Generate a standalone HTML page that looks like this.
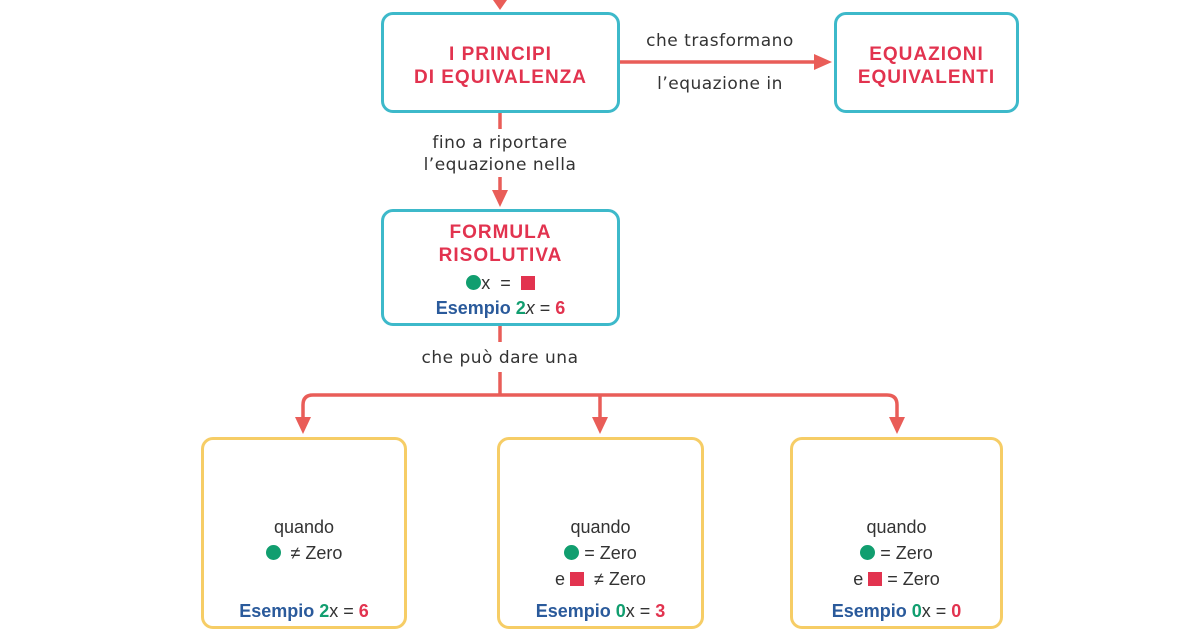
<!DOCTYPE html>
<html><head><meta charset="utf-8"><style>
body{margin:0;width:1200px;height:630px;background:#fff;position:relative;overflow:hidden;font-family:"Liberation Sans","DejaVu Sans",sans-serif}
.b{position:absolute;box-sizing:border-box;border-radius:12px;text-align:center}
.t{border:3.5px solid #3db9ca}
.y{border:3.5px solid #f6cd66}
.h{color:#e2334f;font-weight:bold;font-size:19px;letter-spacing:1px;line-height:23px}
.l{position:absolute;font-size:17px;color:#333;text-align:center;line-height:22px;font-family:"DejaVu Sans",sans-serif;letter-spacing:0.5px}
.ex{color:#2a5a9b;font-weight:bold;font-size:18px}
.g{color:#119e6f;font-weight:bold}.r{color:#e2334f;font-weight:bold}
.dot{display:inline-block;width:15px;height:15px;border-radius:50%;background:#119e6f;vertical-align:-1px}
.sq{display:inline-block;width:14px;height:14px;background:#e2334f;vertical-align:-1px}
.c{font-size:18px;color:#333;line-height:26px}
</style></head><body>
<svg width="1200" height="630" style="position:absolute;left:0;top:0" fill="none" stroke="#e95d58" stroke-width="3.5">
<line x1="500" y1="0" x2="500" y2="4"/><polygon points="493,0 507,0 500,10" fill="#e95d58" stroke="none"/>
<line x1="619" y1="62" x2="815" y2="62"/><polygon points="814,54 832,62 814,70" fill="#e95d58" stroke="none"/>
<line x1="500" y1="112" x2="500" y2="129"/>
<line x1="500" y1="177" x2="500" y2="192"/><polygon points="492,190 508,190 500,207" fill="#e95d58" stroke="none"/>
<line x1="500" y1="325" x2="500" y2="342"/>
<line x1="500" y1="372" x2="500" y2="395"/>
<path d="M303,418 V405 Q303,395 313,395 H887 Q897,395 897,405 V418"/>
<line x1="600" y1="395" x2="600" y2="418"/>
<polygon points="295,417 311,417 303,434" fill="#e95d58" stroke="none"/>
<polygon points="592,417 608,417 600,434" fill="#e95d58" stroke="none"/>
<polygon points="889,417 905,417 897,434" fill="#e95d58" stroke="none"/>
</svg>
<div class="b t" style="left:381px;top:12px;width:239px;height:101px;padding-top:28px"><div class="h">I PRINCIPI<br>DI EQUIVALENZA</div></div>
<div class="b t" style="left:834px;top:12px;width:185px;height:101px;padding-top:28px"><div class="h">EQUAZIONI<br>EQUIVALENTI</div></div>
<div class="l" style="left:620px;top:30px;width:200px">che trasformano</div>
<div class="l" style="left:620px;top:73px;width:200px">l’equazione in</div>
<div class="l" style="left:380px;top:132px;width:240px">fino a riportare<br>l’equazione nella</div>
<div class="b t" style="left:381px;top:209px;width:239px;height:117px;padding-top:9px"><div class="h">FORMULA<br>RISOLUTIVA</div>
<div class="c" style="margin-top:3px"><span class="dot"></span>x &nbsp;= &nbsp;<span class="sq"></span></div>
<div class="ex" style="line-height:24px">Esempio <span class="g">2</span><span style="color:#333;font-weight:normal;font-style:italic">x</span> <span style="color:#333;font-weight:normal">=</span> <span class="r">6</span></div></div>
<div class="l" style="left:380px;top:347px;width:240px">che può dare una</div>
<div class="b y" style="left:201px;top:437px;width:206px;height:192px"><div class="c" style="margin-top:74px">quando<br><span class="dot"></span> &nbsp;≠ Zero</div><div class="ex" style="position:absolute;bottom:4px;width:100%">Esempio <span class="g">2</span><span style="color:#333;font-weight:normal">x</span> <span style="color:#333;font-weight:normal">=</span> <span class="r">6</span></div></div>
<div class="b y" style="left:497px;top:437px;width:207px;height:192px"><div class="c" style="margin-top:74px">quando<br><span class="dot"></span> = Zero<br>e <span class="sq"></span> &nbsp;≠ Zero</div><div class="ex" style="position:absolute;bottom:4px;width:100%">Esempio <span class="g">0</span><span style="color:#333;font-weight:normal">x</span> <span style="color:#333;font-weight:normal">=</span> <span class="r">3</span></div></div>
<div class="b y" style="left:790px;top:437px;width:213px;height:192px"><div class="c" style="margin-top:74px">quando<br><span class="dot"></span> = Zero<br>e <span class="sq"></span> = Zero</div><div class="ex" style="position:absolute;bottom:4px;width:100%">Esempio <span class="g">0</span><span style="color:#333;font-weight:normal">x</span> <span style="color:#333;font-weight:normal">=</span> <span class="r">0</span></div></div>
</body></html>
